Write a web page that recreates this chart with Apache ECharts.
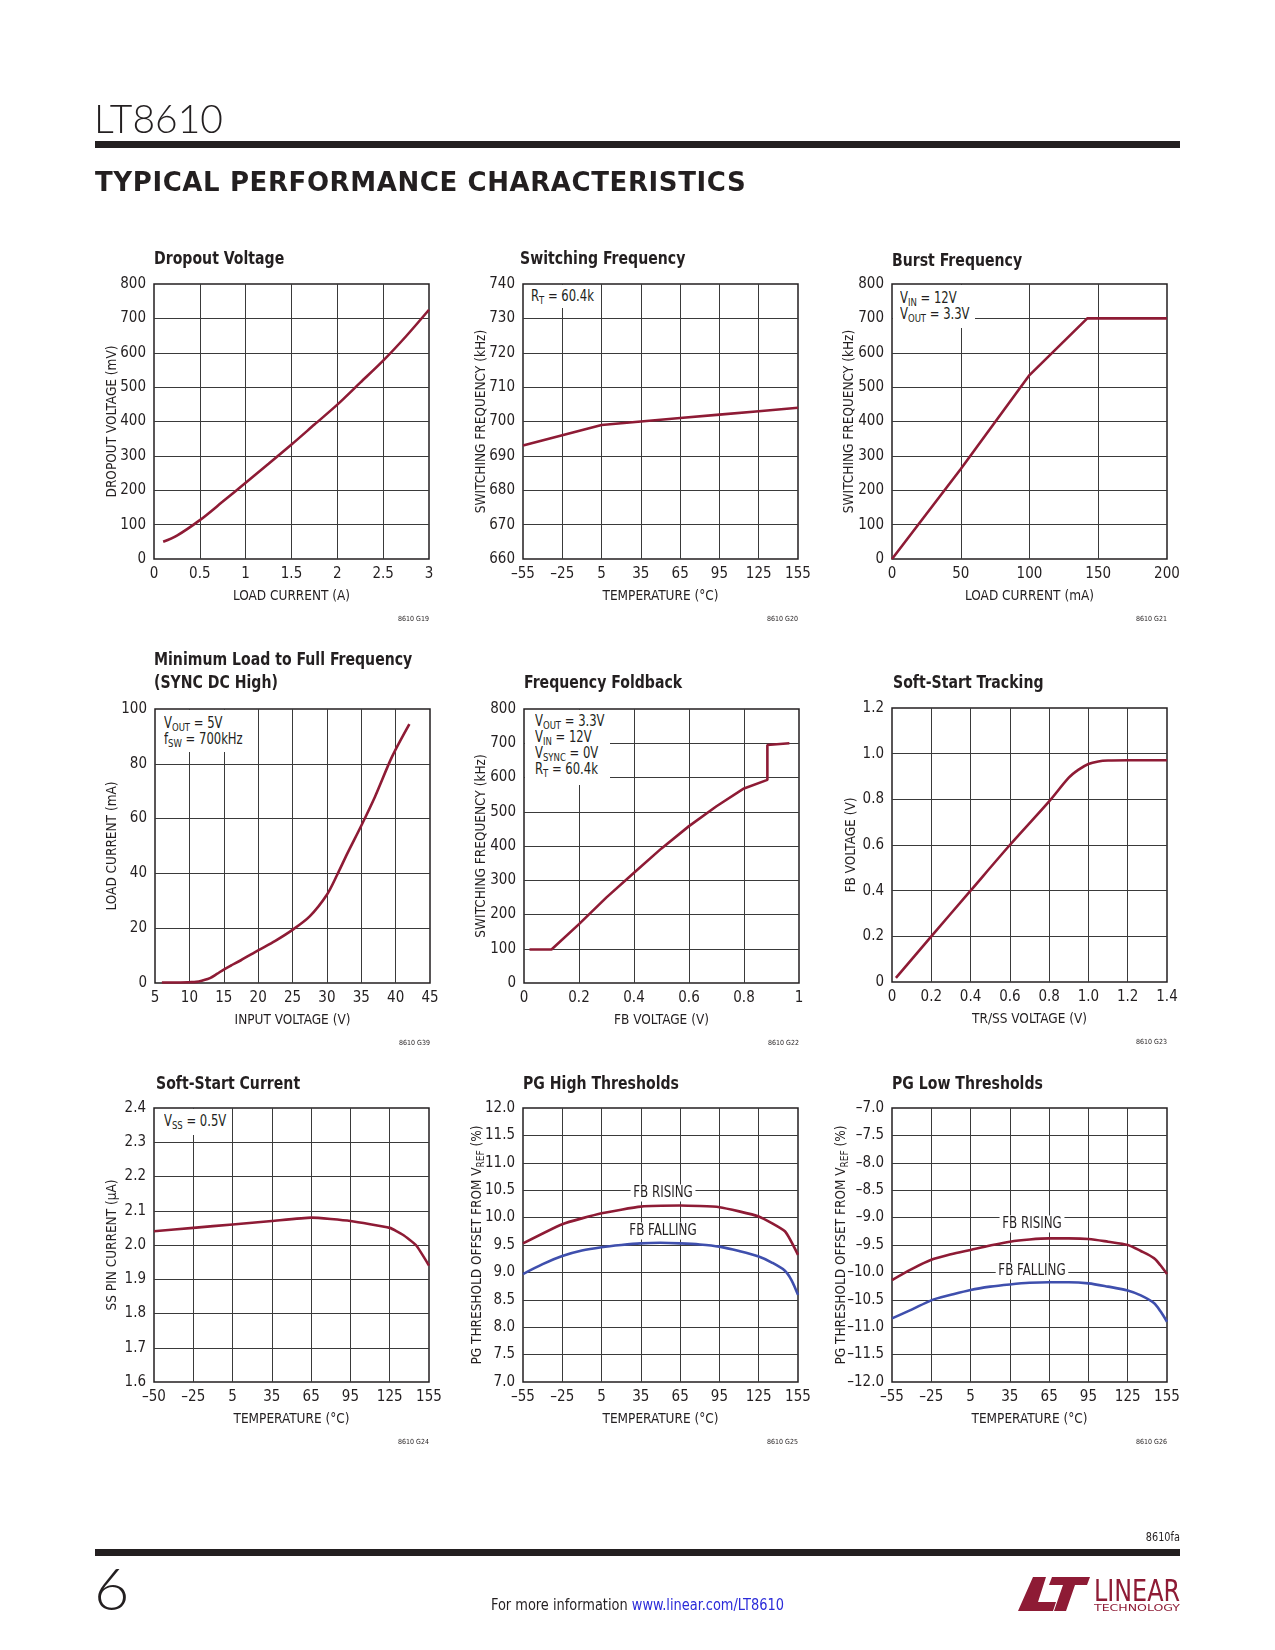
<!DOCTYPE html>
<html><head><meta charset="utf-8">
<script src="https://cdn.jsdelivr.net/npm/echarts/dist/echarts.min.js"></script>
<style>
html,body{margin:0;padding:0;background:#fff;}
#page{position:relative;width:1275px;height:1650px;overflow:hidden;background:#fff;}
#chart{position:absolute;left:0;top:0;width:1275px;height:1650px;}
.abs{position:absolute;white-space:nowrap;color:#231f20;z-index:2;}
.cf{font-family:"Liberation Sans Narrow","DejaVu Sans Condensed",Roboto,sans-serif;}
.note{position:absolute;background:#fff;z-index:2;box-sizing:border-box;}
.note span.t{display:block;font-family:"Liberation Sans Narrow","DejaVu Sans Condensed",Roboto,sans-serif;font-size:15px;line-height:16px;color:#231f20;white-space:nowrap;transform:scaleX(0.86);transform-origin:0 0;}
.note sub{font-size:11px;vertical-align:-3px;line-height:0;}
.bar{position:absolute;background:#231f20;z-index:2;}
</style></head>
<body>
<div id="page">
  <div id="chart"></div>
  <div class="abs" style="left:94px;top:99px;font:300 39px/39px Lato,'Open Sans',sans-serif;">LT8610</div>
  <div class="bar" style="left:95px;top:141px;width:1085px;height:7px;"></div>
  <div class="abs" style="left:95px;top:169px;font:bold 26px/26px 'DejaVu Sans',sans-serif;letter-spacing:0.6px;">TYPICAL PERFORMANCE CHARACTERISTICS</div>

  <div class="note" style="left:524px;top:285px;width:74px;height:23px;padding:3px 0 0 7px;"><span class="t">R<sub>T</sub> = 60.4k</span></div>
  <div class="note" style="left:893px;top:285px;width:82px;height:43px;padding:5px 0 0 7px;"><span class="t">V<sub>IN</sub> = 12V<br>V<sub>OUT</sub> = 3.3V</span></div>
  <div class="note" style="left:156px;top:710px;width:94px;height:42px;padding:5px 0 0 8px;"><span class="t">V<sub>OUT</sub> = 5V<br>f<sub>SW</sub> = 700kHz</span></div>
  <div class="note" style="left:525px;top:710px;width:85px;height:75px;padding:3px 0 0 10px;"><span class="t">V<sub>OUT</sub> = 3.3V<br>V<sub>IN</sub> = 12V<br>V<sub>SYNC</sub> = 0V<br>R<sub>T</sub> = 60.4k</span></div>
  <div class="note" style="left:155px;top:1109px;width:75px;height:26px;padding:4px 0 0 9px;"><span class="t">V<sub>SS</sub> = 0.5V</span></div>

  <div class="abs cf" style="right:95px;top:1529px;font-size:12px;line-height:16px;transform:scaleX(0.9);transform-origin:100% 0;">8610fa</div>
  <div class="bar" style="left:95px;top:1549px;width:1085px;height:7px;"></div>
  <div class="abs" style="left:94px;top:1559px;font:300 58px/58px Lato,'Open Sans',sans-serif;transform:scaleX(1.05);transform-origin:0 0;">6</div>
  <div class="abs cf" style="left:491px;top:1596px;font-size:16px;line-height:18px;transform:scaleX(0.9);transform-origin:0 0;">For more information <span style="color:#2b2bd9">www.linear.com/LT8610</span></div>
  <svg class="abs" style="left:1016px;top:1575px;" width="164" height="37" viewBox="0 0 164 37">
    <path d="M17 2 H30 L22 27 H40 L37 36 H2 Z" fill="#8e1b35"/>
    <path d="M36 2 H74 L71 10 H59 L50 36 H38 L47 10 H33 Z" fill="#8e1b35"/>
    <text x="78" y="26" font-family="'Liberation Sans Narrow','DejaVu Sans Condensed',sans-serif" font-size="30" fill="#8e1b35" textLength="86" lengthAdjust="spacingAndGlyphs">LINEAR</text>
    <text x="78" y="36" font-family="'Liberation Sans Narrow','DejaVu Sans Condensed',sans-serif" font-size="8.5" fill="#8e1b35" textLength="86" lengthAdjust="spacingAndGlyphs">TECHNOLOGY</text>
  </svg>
</div>
<script>
// ---------- DATA ----------
const dropoutCurrent = [0.1, 0.25, 0.5, 0.75, 1, 1.25, 1.5, 1.75, 2, 2.25, 2.5, 2.75, 3];
const dropoutVoltage = [50, 68, 113, 167, 222, 277, 333, 391, 449, 513, 577, 648, 725];

const swTemp = [-55, -25, 5, 35, 65, 95, 125, 155];
const swFreq = [693, 696, 699, 700, 701, 702, 703, 704];

const burstLoad = [0, 50, 100, 142, 200];
const burstFreq = [0, 262, 535, 700, 700];

const minLoadVin = [6, 8, 10, 11, 12, 13, 14, 15, 16, 17.5, 20, 22.5, 25, 27.5, 30, 31.5, 33, 35, 37, 39.5, 42];
const minLoadCurrent = [0.2, 0.2, 0.3, 0.4, 1.0, 1.8, 3.3, 4.9, 6.3, 8.3, 11.9, 15.4, 19.4, 24.3, 32.2, 39.5, 47.4, 57.4, 68.0, 82.7, 94.5];

const foldFb = [0.02, 0.1, 0.2, 0.3, 0.4, 0.5, 0.6, 0.7, 0.8, 0.885, 0.885, 0.965];
const foldFreq = [98, 98, 172, 250, 322, 393, 458, 516, 568, 593, 695, 700];

const trssVoltage = [0.02, 0.2, 0.4, 0.6, 0.8, 0.9, 0.95, 1.0, 1.05, 1.1, 1.2, 1.4];
const trackFb = [0.018, 0.2, 0.4, 0.6, 0.791, 0.895, 0.93, 0.955, 0.966, 0.97, 0.971, 0.971];

const ssTemp = [-55, -25, 5, 35, 65, 95, 125, 135, 145, 155];
const ssCurrent = [2.04, 2.05, 2.06, 2.07, 2.08, 2.07, 2.05, 2.03, 2.0, 1.94];

const pgHighRiseTemp = [-55, -25, 5, 35, 65, 95, 125, 145, 155];
const pgHighRise = [9.53, 9.88, 10.08, 10.2, 10.22, 10.19, 10.02, 9.75, 9.32];
const pgTemp = [-55, -40, -25, -10, 5, 20, 35, 50, 65, 80, 95, 110, 125, 135, 145, 150, 155];
const pgHighFall = [8.97, 9.15, 9.3, 9.4, 9.46, 9.5, 9.53, 9.54, 9.53, 9.51, 9.47, 9.39, 9.29, 9.18, 9.03, 8.86, 8.59];
const pgLowRise = [-10.14, -9.94, -9.77, -9.67, -9.59, -9.51, -9.44, -9.4, -9.38, -9.38, -9.39, -9.44, -9.5, -9.61, -9.74, -9.87, -10.03];
const pgLowFall = [-10.84, -10.68, -10.51, -10.41, -10.32, -10.26, -10.22, -10.19, -10.18, -10.18, -10.2, -10.26, -10.33, -10.42, -10.56, -10.71, -10.9];

// tick labels
const dropoutXTicks = ['0', '0.5', '1', '1.5', '2', '2.5', '3'];
const mv800Ticks = ['0', '100', '200', '300', '400', '500', '600', '700', '800'];
const tempTicks = ['\u201355', '\u201325', '5', '35', '65', '95', '125', '155'];
const ssTempTicks = ['\u201350', '\u201325', '5', '35', '65', '95', '125', '155'];
const swFreqTicks = ['660', '670', '680', '690', '700', '710', '720', '730', '740'];
const burstLoadTicks = ['0', '50', '100', '150', '200'];
const vinTicks = ['5', '10', '15', '20', '25', '30', '35', '40', '45'];
const loadTicks = ['0', '20', '40', '60', '80', '100'];
const fbTicks = ['0', '0.2', '0.4', '0.6', '0.8', '1'];
const trssTicks = ['0', '0.2', '0.4', '0.6', '0.8', '1.0', '1.2', '1.4'];
const trackTicks = ['0', '0.2', '0.4', '0.6', '0.8', '1.0', '1.2'];
const ssCurrentTicks = ['1.6', '1.7', '1.8', '1.9', '2.0', '2.1', '2.2', '2.3', '2.4'];
const pgHighTicks = ['7.0', '7.5', '8.0', '8.5', '9.0', '9.5', '10.0', '10.5', '11.0', '11.5', '12.0'];
const pgLowTicks = ['\u201312.0', '\u201311.5', '\u201311.0', '\u201310.5', '\u201310.0', '\u20139.5', '\u20139.0', '\u20138.5', '\u20138.0', '\u20137.5', '\u20137.0'];

// ---------- STYLE / LAYOUT ----------
const FONT = '"Liberation Sans Narrow","DejaVu Sans Condensed",Roboto,sans-serif';
const TXT = '#231f20';
const RED = '#8e1b35';
const BLUE = '#3f4fad';
const zip = (a, b) => a.map((v, i) => [v, b[i]]);

const charts = [
  { g: [154, 284, 275, 275], title: 'Dropout Voltage', tl: [154, 259], code: '8610 G19',
    x: { min: 0, max: 3, interval: 0.5, labels: dropoutXTicks, name: 'LOAD CURRENT (A)' },
    y: { min: 0, max: 800, interval: 100, labels: mv800Ticks, name: 'DROPOUT VOLTAGE (mV)', gap: 35 },
    s: [{ d: zip(dropoutCurrent, dropoutVoltage), c: RED, smooth: 0.3 }] },
  { g: [523, 284, 275, 275], title: 'Switching Frequency', tl: [520, 259], code: '8610 G20',
    x: { min: -55, max: 155, interval: 30, labels: tempTicks, name: 'TEMPERATURE (\u00B0C)' },
    y: { min: 660, max: 740, interval: 10, labels: swFreqTicks, name: 'SWITCHING FREQUENCY (kHz)', gap: 35 },
    s: [{ d: zip(swTemp, swFreq), c: RED, smooth: false }] },
  { g: [892, 284, 275, 275], title: 'Burst Frequency', tl: [892, 261.5], code: '8610 G21',
    x: { min: 0, max: 200, interval: 50, labels: burstLoadTicks, name: 'LOAD CURRENT (mA)' },
    y: { min: 0, max: 800, interval: 100, labels: mv800Ticks, name: 'SWITCHING FREQUENCY (kHz)', gap: 36 },
    s: [{ d: zip(burstLoad, burstFreq), c: RED, smooth: false }] },
  { g: [155, 709, 275, 274], title: 'Minimum Load to Full Frequency\n(SYNC DC High)', tl: [154, 672], code: '8610 G39',
    x: { min: 5, max: 45, interval: 5, labels: vinTicks, name: 'INPUT VOLTAGE (V)' },
    y: { min: 0, max: 100, interval: 20, labels: loadTicks, name: 'LOAD CURRENT (mA)', gap: 36 },
    s: [{ d: zip(minLoadVin, minLoadCurrent), c: RED, smooth: 0.3 }] },
  { g: [524, 709, 275, 274], title: 'Frequency Foldback', tl: [524, 683], code: '8610 G22',
    x: { min: 0, max: 1, interval: 0.2, labels: fbTicks, name: 'FB VOLTAGE (V)' },
    y: { min: 0, max: 800, interval: 100, labels: mv800Ticks, name: 'SWITCHING FREQUENCY (kHz)', gap: 35.5 },
    s: [{ d: zip(foldFb, foldFreq), c: RED, smooth: false }] },
  { g: [892, 708, 275, 274], title: 'Soft-Start Tracking', tl: [893, 683], code: '8610 G23',
    x: { min: 0, max: 1.4, interval: 0.2, labels: trssTicks, name: 'TR/SS VOLTAGE (V)' },
    y: { min: 0, max: 1.2, interval: 0.2, labels: trackTicks, name: 'FB VOLTAGE (V)', gap: 34 },
    s: [{ d: zip(trssVoltage, trackFb), c: RED, smooth: 0.3 }] },
  { g: [154, 1108, 275, 274], title: 'Soft-Start Current', tl: [156, 1084], code: '8610 G24',
    x: { min: -55, max: 155, interval: 30, labels: ssTempTicks, name: 'TEMPERATURE (\u00B0C)' },
    y: { min: 1.6, max: 2.4, interval: 0.1, labels: ssCurrentTicks, name: 'SS PIN CURRENT (\u00B5A)', gap: 35 },
    s: [{ d: zip(ssTemp, ssCurrent), c: RED, smooth: 0.15 }] },
  { g: [523, 1108, 275, 274], title: 'PG High Thresholds', tl: [523, 1084], code: '8610 G25',
    x: { min: -55, max: 155, interval: 30, labels: tempTicks, name: 'TEMPERATURE (\u00B0C)' },
    y: { min: 7, max: 12, interval: 0.5, labels: pgHighTicks, name: 'PG THRESHOLD OFFSET FROM V{s|REF} (%)', gap: 37 },
    s: [{ d: zip(pgHighRiseTemp, pgHighRise), c: RED, smooth: 0.15 }, { d: zip(pgTemp, pgHighFall), c: BLUE, smooth: 0.3 }],
    labels: [{ t: 'FB RISING', x: 663, y: 1193 }, { t: 'FB FALLING', x: 663, y: 1231 }] },
  { g: [892, 1108, 275, 274], title: 'PG Low Thresholds', tl: [892, 1084], code: '8610 G26',
    x: { min: -55, max: 155, interval: 30, labels: tempTicks, name: 'TEMPERATURE (\u00B0C)' },
    y: { min: -12, max: -7, interval: 0.5, labels: pgLowTicks, name: 'PG THRESHOLD OFFSET FROM V{s|REF} (%)', gap: 42 },
    s: [{ d: zip(pgTemp, pgLowRise), c: RED, smooth: 0.3 }, { d: zip(pgTemp, pgLowFall), c: BLUE, smooth: 0.3 }],
    labels: [{ t: 'FB RISING', x: 1032, y: 1224 }, { t: 'FB FALLING', x: 1032, y: 1271 }] }
];

const grid = [], xAxis = [], yAxis = [], series = [], graphic = [];
const fmt = (ax) => (v) => ax.labels[Math.round((v - ax.min) / ax.interval)] ?? '';
const rich = { s: { fontFamily: FONT, fontSize: 10, color: TXT, padding: [8, 0, 0, 0] } };

charts.forEach((c, i) => {
  grid.push({ left: c.g[0], top: c.g[1], width: c.g[2], height: c.g[3], show: true,
    borderColor: TXT, borderWidth: 1.5, backgroundColor: 'transparent', containLabel: false });
  xAxis.push({ type: 'value', gridIndex: i, min: c.x.min, max: c.x.max, interval: c.x.interval,
    name: c.x.name, nameLocation: 'middle', nameGap: 30.5, nameMoveOverlap: false,
    nameTextStyle: { fontFamily: FONT, fontSize: 13.5, color: TXT },
    axisLine: { show: false }, axisTick: { show: false },
    axisLabel: { margin: 8, fontFamily: FONT, fontSize: 15, color: TXT, formatter: fmt(c.x), showMinLabel: true, showMaxLabel: true },
    splitLine: { show: true, showMinLine: false, showMaxLine: false, lineStyle: { color: '#3a3a3a', width: 1 } } });
  yAxis.push({ type: 'value', gridIndex: i, min: c.y.min, max: c.y.max, interval: c.y.interval,
    name: c.y.name, nameLocation: 'middle', nameGap: c.y.gap, nameMoveOverlap: false,
    nameTextStyle: { fontFamily: FONT, fontSize: 13.5, color: TXT, rich: rich },
    axisLine: { show: false }, axisTick: { show: false },
    axisLabel: { margin: 8, fontFamily: FONT, fontSize: 15, color: TXT, formatter: fmt(c.y), showMinLabel: true, showMaxLabel: true },
    splitLine: { show: true, showMinLine: false, showMaxLine: false, lineStyle: { color: '#3a3a3a', width: 1 } } });
  c.s.forEach(s => series.push({ type: 'line', xAxisIndex: i, yAxisIndex: i, data: s.d, showSymbol: false,
    smooth: s.smooth, silent: true, z: 5,
    lineStyle: { color: s.c, width: 2.6 } }));
  // chart title (bold, horizontally condensed)
  graphic.push({ type: 'text', x: c.tl[0], y: c.tl[1], scaleX: 0.87, z: 10,
    style: { text: c.title, align: 'left', verticalAlign: 'middle', font: 'bold 18px ' + FONT, lineHeight: 23, fill: TXT } });
  // figure code
  graphic.push({ type: 'text', x: c.g[0] + c.g[2], y: c.g[1] + c.g[3] + 60, z: 10,
    style: { text: c.code, align: 'right', verticalAlign: 'middle', font: '7px ' + FONT, fill: TXT } });
  (c.labels || []).forEach(l => graphic.push({ type: 'text', x: l.x, y: l.y, scaleX: 0.88, z: 10,
    style: { text: l.t, align: 'center', verticalAlign: 'middle', font: '15px ' + FONT, fill: TXT,
      backgroundColor: '#fff', padding: [1, 3] } }));
});

const chart = echarts.init(document.getElementById('chart'), null, { renderer: 'canvas' });
chart.setOption({ animation: false, backgroundColor: '#fff', grid, xAxis, yAxis, series, graphic });
</script>
</body></html>
